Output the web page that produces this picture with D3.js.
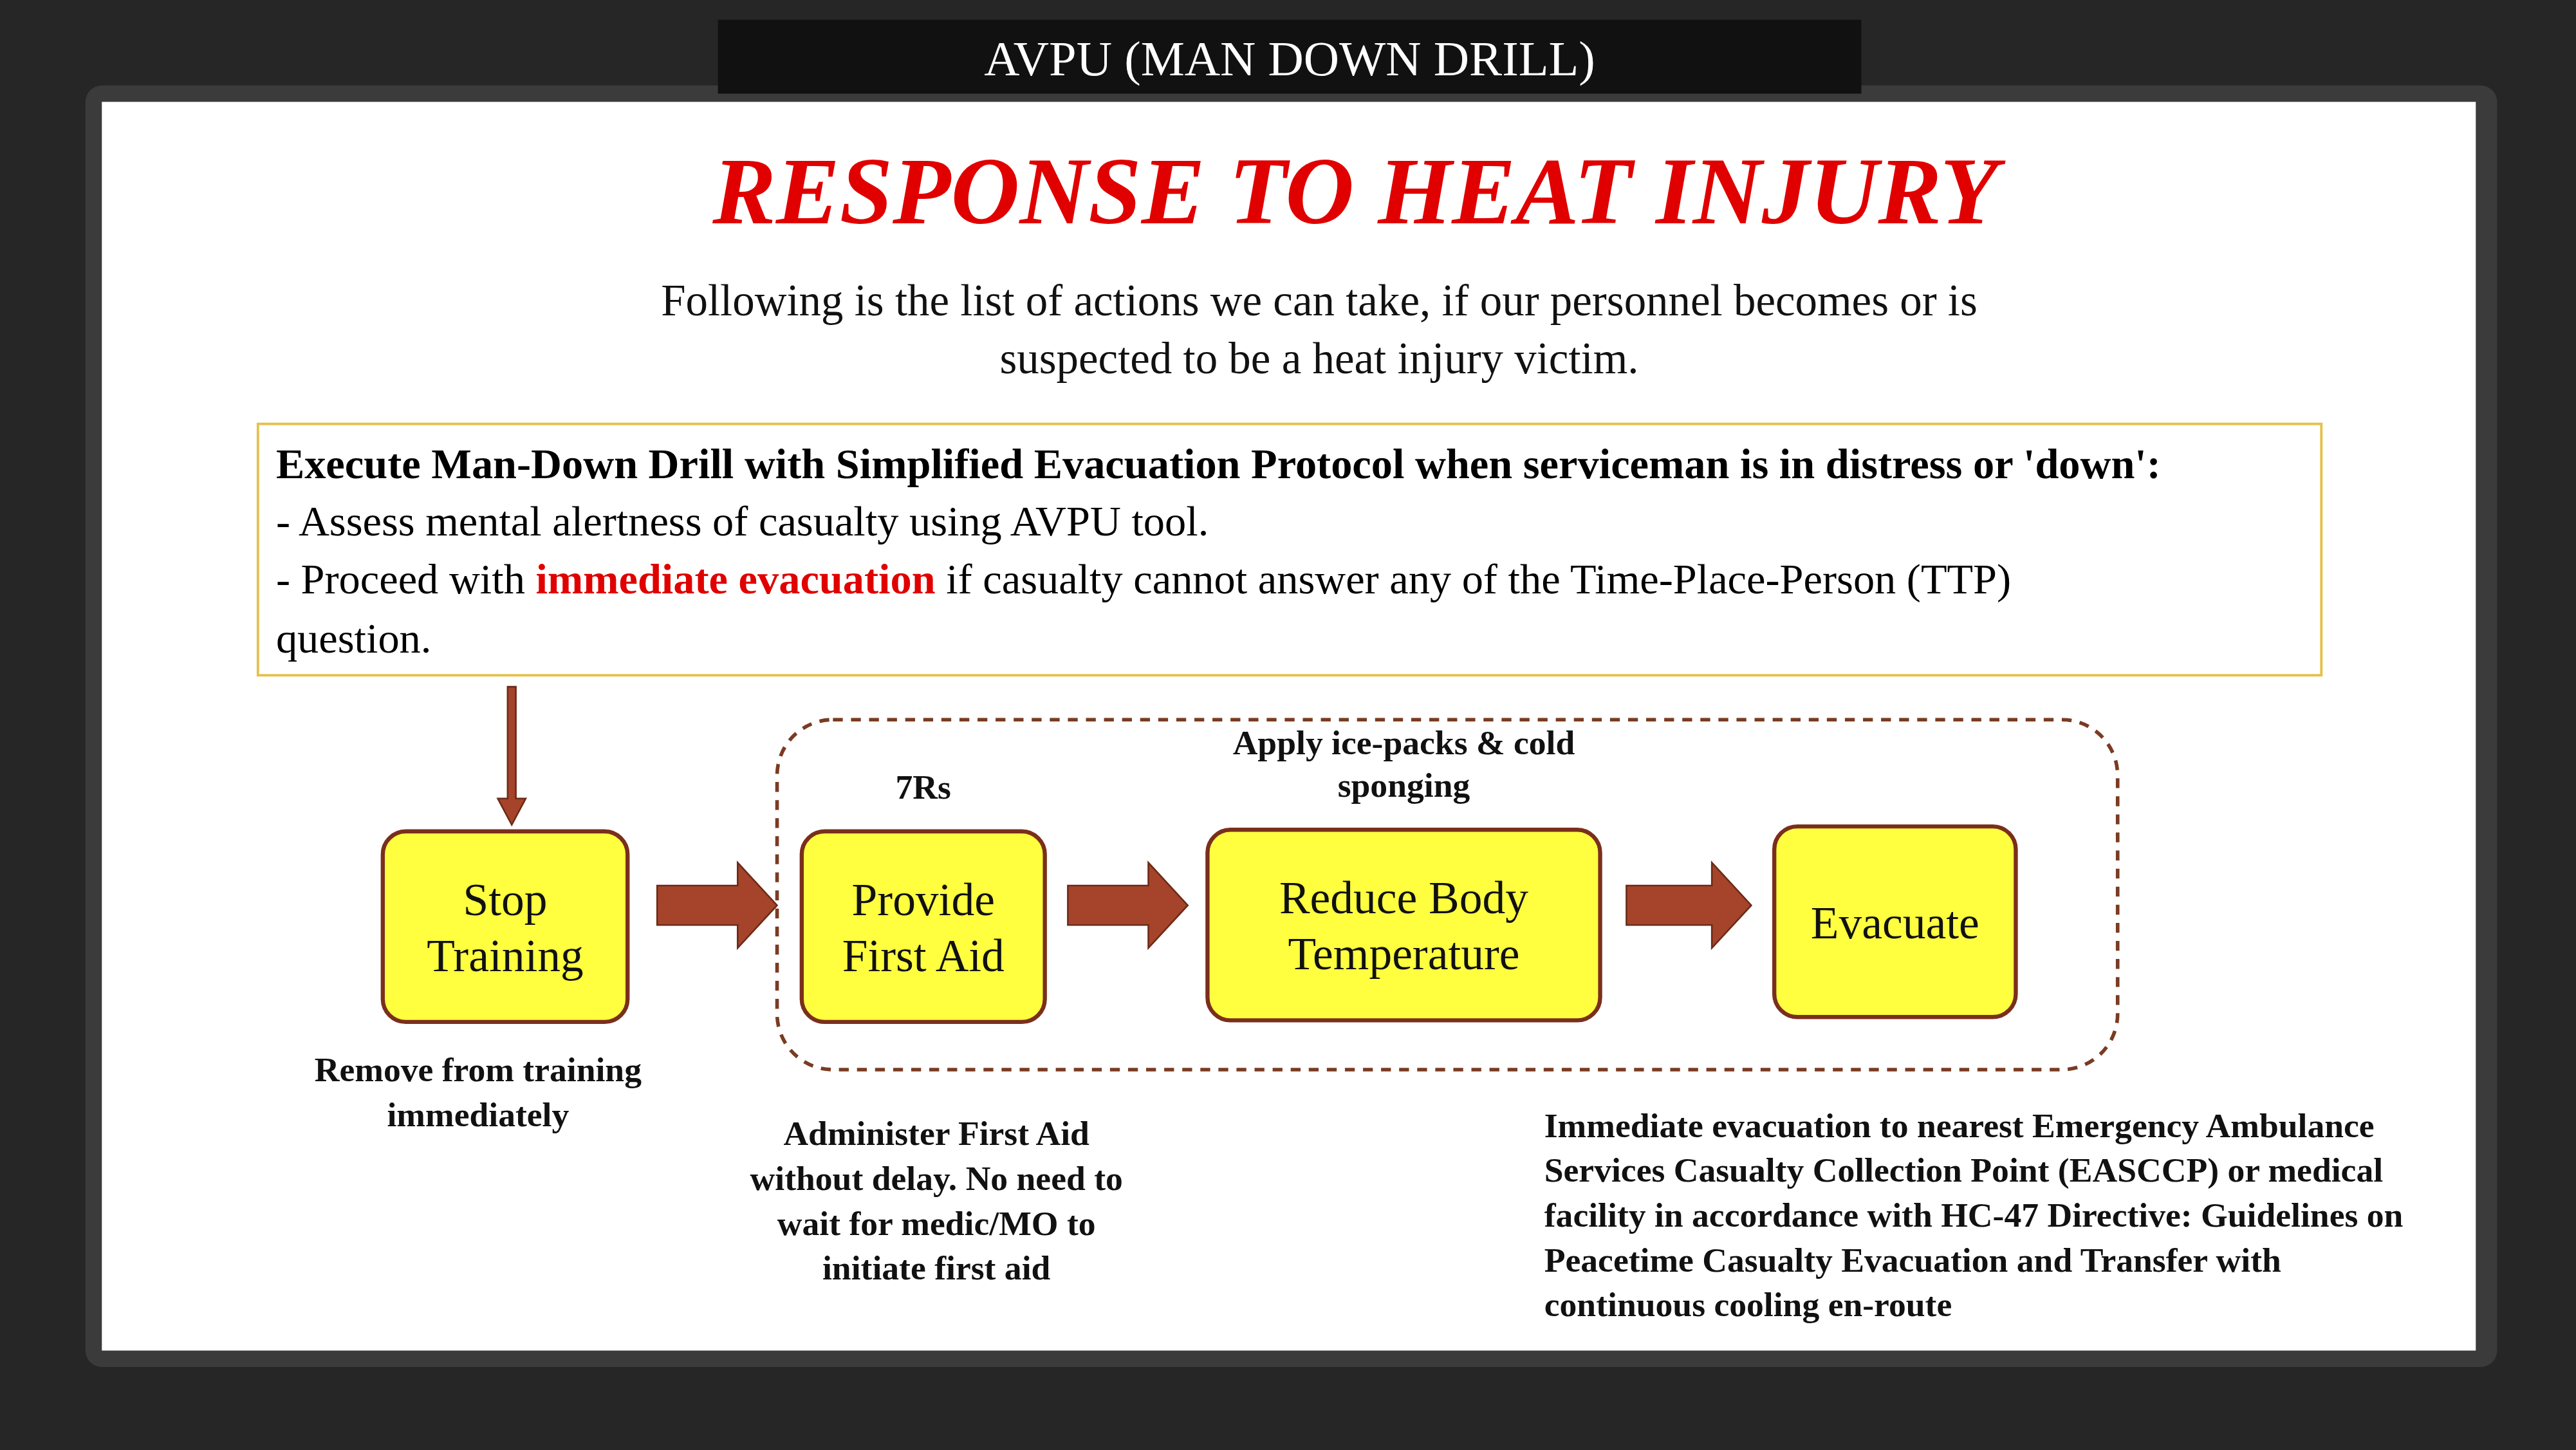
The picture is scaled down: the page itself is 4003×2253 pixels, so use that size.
<!DOCTYPE html>
<html><head><meta charset="utf-8">
<script src="https://cdn.jsdelivr.net/npm/d3@7"></script>
<style>body{margin:0;background:#262626;}svg{display:block;font-family:"Liberation Serif","DejaVu Serif",serif;}</style>
</head><body>
<script>
// content, kept near the top
const header = 'AVPU (MAN DOWN DRILL)';
const title = 'RESPONSE TO HEAT INJURY';
const intro = ['Following is the list of actions we can take, if our personnel becomes or is',
               'suspected to be a heat injury victim.'];
const steps = [['Stop', 'Training'], ['Provide', 'First Aid'], ['Reduce Body', 'Temperature'], ['Evacuate']];
const stepX = [[233, 382], [488, 636], [735, 974], [1080, 1227]];
const stepY = [[506, 622], [506, 622], [505, 621], [503, 619]];
const topNotes = [[], ['7Rs'], ['Apply ice-packs & cold', 'sponging'], []];
const bottomNotes = [
  {x: 291, y: 658, anchor: 'middle', lines: ['Remove from training', 'immediately']},
  {x: 570, y: 697, anchor: 'middle', lines: ['Administer First Aid', 'without delay. No need to', 'wait for medic/MO to', 'initiate first aid']},
  {x: 940, y: 692, anchor: 'start', lines: ['Immediate evacuation to nearest Emergency Ambulance',
    'Services Casualty Collection Point (EASCCP) or medical',
    'facility in accordance with HC-47 Directive: Guidelines on',
    'Peacetime Casualty Evacuation and Transfer with',
    'continuous cooling en-route']}
];
const arrowsX = [[400, 473], [650, 723], [990, 1066]];

const W = 4003, H = 2253;
const s = d3.scaleLinear().domain([0, 1568]).range([0, W]);
const svg = d3.select('body').append('svg').attr('width', W).attr('height', H);

svg.append('rect').attr('width', W).attr('height', H).attr('fill', '#262626');
svg.append('rect').attr('x', s(52)).attr('y', s(52)).attr('width', s(1468)).attr('height', s(780))
  .attr('rx', s(10)).attr('fill', '#3b3b3b');
svg.append('rect').attr('x', s(62)).attr('y', s(62)).attr('width', s(1445)).attr('height', s(760)).attr('fill', '#fff');

svg.append('rect').attr('x', s(437)).attr('y', s(12)).attr('width', s(696)).attr('height', s(45)).attr('fill', '#111');
svg.append('text').attr('x', s(785)).attr('y', s(46)).attr('text-anchor', 'middle')
  .attr('font-size', s(30)).attr('fill', '#fff').text(header);

svg.append('text').attr('x', s(825)).attr('y', s(136)).attr('text-anchor', 'middle')
  .attr('font-size', s(58)).attr('font-weight', 'bold').attr('font-style', 'italic')
  .attr('fill', '#e00000').text(title);

intro.forEach((t, i) => svg.append('text').attr('x', s(803)).attr('y', s(192 + i * 35))
  .attr('text-anchor', 'middle').attr('font-size', s(27)).attr('fill', '#111').text(t));

// instruction box
svg.append('rect').attr('x', s(157)).attr('y', s(258)).attr('width', s(1256)).attr('height', s(153))
  .attr('fill', '#fff').attr('stroke', '#e6c04a').attr('stroke-width', s(1.5));
const bx = s(168), fs = s(26);
svg.append('text').attr('x', bx).attr('y', s(291)).attr('font-size', fs).attr('font-weight', 'bold')
  .text("Execute Man-Down Drill with Simplified Evacuation Protocol when serviceman is in distress or 'down':");
svg.append('text').attr('x', bx).attr('y', s(326)).attr('font-size', fs).text('- Assess mental alertness of casualty using AVPU tool.');
const l3 = svg.append('text').attr('x', bx).attr('y', s(361)).attr('font-size', fs);
l3.append('tspan').text('- Proceed with ');
l3.append('tspan').attr('fill', '#e00000').attr('font-weight', 'bold').text('immediate evacuation');
l3.append('tspan').text(' if casualty cannot answer any of the Time-Place-Person (TTP)');
svg.append('text').attr('x', bx).attr('y', s(397)).attr('font-size', fs).text('question.');

const brown = '#a5442a', dark = '#6b2a18';
// down arrow
svg.append('path').attr('d', `M${s(309)},${s(418)}h${s(5)}v${s(68)}h${s(6)}l${s(-8.5)},${s(16)}l${s(-8.5)},${s(-16)}h${s(6)}z`)
  .attr('fill', brown).attr('stroke', dark).attr('stroke-width', s(1));

// dashed group
svg.append('rect').attr('x', s(473)).attr('y', s(438)).attr('width', s(816)).attr('height', s(213))
  .attr('rx', s(34)).attr('fill', 'none').attr('stroke', '#7a3b22').attr('stroke-width', s(2.2))
  .attr('stroke-dasharray', `${s(6)},${s(5)}`);

// right arrows
arrowsX.forEach(([a, b]) => {
  const y = 551, h = 12, hh = 26, hl = 24;
  svg.append('path').attr('d', `M${s(a)},${s(y - h)}H${s(b - hl)}V${s(y - hh)}L${s(b)},${s(y)}L${s(b - hl)},${s(y + hh)}V${s(y + h)}H${s(a)}Z`)
    .attr('fill', brown).attr('stroke', dark).attr('stroke-width', s(1));
});

// steps
steps.forEach((lines, i) => {
  const [x0, x1] = stepX[i], [y0, y1] = stepY[i];
  svg.append('rect').attr('x', s(x0)).attr('y', s(y0)).attr('width', s(x1 - x0)).attr('height', s(y1 - y0))
    .attr('rx', s(14)).attr('fill', '#ffff40').attr('stroke', '#7a2f1c').attr('stroke-width', s(2.5));
  const cx = (x0 + x1) / 2, cy = (y0 + y1) / 2;
  lines.forEach((t, j) => svg.append('text').attr('x', s(cx)).attr('y', s(cy + 10 + (j - (lines.length - 1) / 2) * 34))
    .attr('text-anchor', 'middle').attr('font-size', s(28)).attr('fill', '#111').text(t));
  const tn = topNotes[i];
  tn.forEach((t, j) => svg.append('text').attr('x', s(cx)).attr('y', s(y0 - 20 - (tn.length - 1 - j) * 26))
    .attr('text-anchor', 'middle').attr('font-size', s(21)).attr('font-weight', 'bold').attr('fill', '#111').text(t));
});

bottomNotes.forEach(n => n.lines.forEach((t, j) => svg.append('text').attr('x', s(n.x)).attr('y', s(n.y + j * 27.3))
  .attr('text-anchor', n.anchor).attr('font-size', s(21)).attr('font-weight', 'bold').attr('fill', '#111').text(t)));
</script>
</body></html>
